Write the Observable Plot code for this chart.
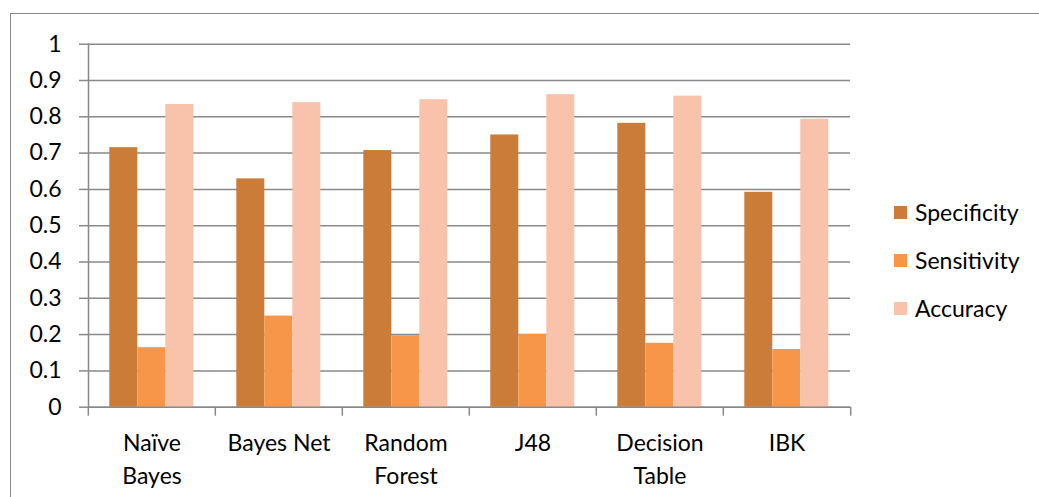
<!DOCTYPE html>
<html>
<head>
<meta charset="utf-8">
<script src="https://cdn.jsdelivr.net/npm/d3@7"></script>
<script src="https://cdn.jsdelivr.net/npm/@observablehq/plot@0.6"></script>
<style>
  html, body { margin: 0; padding: 0; background: #fff; width: 1039px; height: 497px; overflow: hidden; }
  #wrap { position: relative; width: 1039px; height: 497px; font-family: Lato, "Noto Sans", sans-serif; color: #000; }
  #frame { position: absolute; left: 10px; top: 13px; width: 1100px; height: 600px; border: 1.5px solid #8a8a8a; box-sizing: border-box; pointer-events: none; }
  #chart { position: absolute; left: 0; top: 0; }
  #legend { position: absolute; left: 894px; top: 188px; font-size: 23px; line-height: 48px; }
  .item { display: flex; align-items: center; height: 48px; }
  .swatch { width: 13px; height: 13px; margin-right: 8px; }
</style>
</head>
<body>
<div id="wrap">
  <div id="frame"></div>
  <div id="chart"></div>
  <div id="legend"></div>
</div>
<script>
// Classifier results
const classifiers = ["Naïve Bayes", "Bayes Net", "Random Forest", "J48", "Decision Table", "IBK"];
const classifierLabels = ["Naïve\nBayes", "Bayes Net", "Random\nForest", "J48", "Decision\nTable", "IBK"];
const seriesNames = ["Specificity", "Sensitivity", "Accuracy"];
const specificity = [0.715, 0.629, 0.707, 0.750, 0.782, 0.592];
const sensitivity = [0.164, 0.251, 0.197, 0.200, 0.176, 0.159];
const accuracy = [0.834, 0.839, 0.847, 0.861, 0.857, 0.793];
const yTicks = [0, 0.1, 0.2, 0.3, 0.4, 0.5, 0.6, 0.7, 0.8, 0.9, 1];
const seriesColors = ["#CC7C39", "#F79648", "#F9C2AA"];

const seriesValues = [specificity, sensitivity, accuracy];
const rows = [];
classifiers.forEach((c, i) => {
  seriesNames.forEach((s, j) => rows.push({classifier: c, series: s, value: seriesValues[j][i]}));
});

const W = 1039, H = 497;
const mL = 86.7, mR = 188, mT = 43.7, mB = 90.3;
const band = (W - mL - mR) / classifiers.length;
const gray = "#898989";

const chart = Plot.plot({
  width: W,
  height: H,
  marginLeft: mL,
  marginRight: mR,
  marginTop: mT,
  marginBottom: mB,
  style: {fontFamily: "Lato, 'Noto Sans', sans-serif", fontSize: "23px", color: "#000", background: "transparent", overflow: "visible"},
  fx: {domain: classifiers, padding: 0, label: null, axis: null},
  x: {domain: seriesNames, paddingInner: 0, paddingOuter: 0.75, axis: null},
  y: {domain: [0, 1], axis: null},
  color: {domain: seriesNames, range: seriesColors},
  marks: [
    Plot.gridY(yTicks, {stroke: gray, strokeOpacity: 1, strokeWidth: 1.5}),
    Plot.barY(rows, {fx: "classifier", x: "series", y: "value", fill: "series"}),
    Plot.ruleY([0], {stroke: gray, strokeWidth: 1.5}),
    Plot.frame({anchor: "left", facetAnchor: "left", stroke: gray, strokeWidth: 1.5}),
    Plot.axisY(yTicks, {
      anchor: "left", tickSize: 9, tickPadding: 18, stroke: gray, strokeWidth: 1.5,
      tickFormat: d => String(+d.toFixed(1)), fontSize: 23, label: null
    }),
    // category boundary ticks under the baseline
    Plot.axisFx({anchor: "bottom", tickSize: 9, dx: -band / 2, stroke: gray, strokeWidth: 1.5, tickFormat: () => "", label: null}),
    Plot.axisFx({ticks: [classifiers[classifiers.length - 1]], anchor: "bottom", tickSize: 9, dx: band / 2, stroke: gray, strokeWidth: 1.5, tickFormat: () => "", label: null}),
    Plot.axisFx({
      anchor: "bottom", tickSize: 0, tickPadding: 21, lineHeight: 1.42, fontSize: 23, label: null,
      tickFormat: d => classifierLabels[classifiers.indexOf(d)]
    })
  ]
});
document.getElementById("chart").appendChild(chart);

const legend = document.getElementById("legend");
seriesNames.forEach((s, i) => {
  const item = document.createElement("div");
  item.className = "item";
  const sw = document.createElement("span");
  sw.className = "swatch";
  sw.style.background = seriesColors[i];
  const t = document.createElement("span");
  t.textContent = s;
  item.appendChild(sw);
  item.appendChild(t);
  legend.appendChild(item);
});
</script>
</body>
</html>
